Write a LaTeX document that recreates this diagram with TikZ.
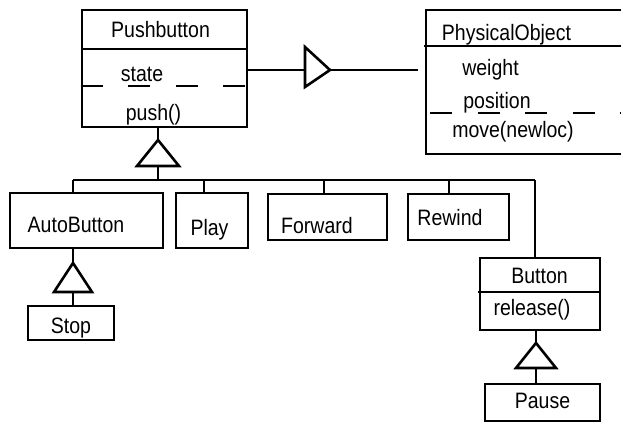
\documentclass[tikz,border=0pt]{standalone}
\usepackage{fontspec}
\setmainfont[FakeStretch=0.875]{Liberation Sans}
\begin{document}
\begin{tikzpicture}[x=1pt,y=-1pt,
  box/.style={draw, line width=2.6pt, inner sep=0pt},
  lbl/.style={anchor=base, inner sep=0pt, font=\fontsize{22.3}{25}\selectfont},
  conn/.style={line width=2.6pt},
  dashline/.style={line width=2.6pt, dash pattern=on 22pt off 25.5pt},
  tri/.style={line width=2.6pt, fill=white, line join=miter}]
\useasboundingbox (0,0) rectangle (621,423);
\clip (0,0) rectangle (621,423);
% class boxes
\node[box, minimum width=165pt, minimum height=117pt] (pb) at (164.5,68.5) {};
\node[box, minimum width=210pt, minimum height=144pt] (po) at (531,82) {};
\node[box, minimum width=153pt, minimum height=55pt] (ab) at (86.5,220.5) {};
\node[box, minimum width=72pt, minimum height=55pt] (play) at (212,220.5) {};
\node[box, minimum width=119pt, minimum height=46pt] (fw) at (327.5,217) {};
\node[box, minimum width=101pt, minimum height=46pt] (rw) at (458.5,217) {};
\node[box, minimum width=86pt, minimum height=34pt] (stop) at (71,323) {};
\node[box, minimum width=120pt, minimum height=72pt] (btn) at (540,294) {};
\node[box, minimum width=115pt, minimum height=37pt] (pause) at (542.5,402.5) {};
% compartments
\draw[conn] (81,49) -- (pb.east |- 0,49);
\draw[dashline] (pb.west |- 0,86) -- (pb.east |- 0,86);
\draw[conn] (424,46) -- (po.east |- 0,46);
\draw[dashline] (430,113) -- (621,113);
\draw[conn] (478,292) -- (btn.east |- 0,292);
% labels
\node[lbl] (tpb) at (160.5,37.5) {Pushbutton};
\node[lbl] (tstate) at (142,81) {state};
\node[lbl] (tpush) at (153.5,120) {push()};
\node[lbl] (tpo) at (506.5,40) {PhysicalObject};
\node[lbl] (tw) at (490.5,75) {weight};
\node[lbl] (tpos) at (497,108) {position};
\node[lbl] (tmove) at (513,137) {move(newloc)};
\node[lbl] (tab) at (76,232.7) {AutoButton};
\node[lbl] (tplay) at (209.5,235) {Play};
\node[lbl] (tfw) at (317,233) {Forward};
\node[lbl] (trw) at (450,225) {Rewind};
\node[lbl] (tstop) at (71,333) {Stop};
\node[lbl] (tbtn) at (539.5,283) {Button};
\node[lbl] (trel) at (532,315) {release()};
\node[lbl] (tpause) at (542.5,408.3) {Pause};
% generalization Pushbutton
\coordinate (g1a) at (158,140);
\coordinate (g1b) at (158,166);
\coordinate (bl) at (73,180);
\coordinate (br) at (535,180);
\draw[conn] (pb.south -| g1a) -- (g1a);
\draw[tri] (g1a) -- (179,166) -- (137,166) -- cycle;
\draw[conn] (g1b) -- (g1b |- bl);
\draw[conn] (bl) -- (br);
\draw[conn] (bl) -- (ab.north -| bl);
\draw[conn] (204,180) -- (play.north -| 204,0);
\draw[conn] (324,180) -- (fw.north -| 324,0);
\draw[conn] (449,180) -- (rw.north -| 449,0);
\draw[conn] (br) -- (btn.north -| br);
% generalization AutoButton -> Stop
\coordinate (g2a) at (73,263);
\coordinate (g2b) at (73,292);
\draw[conn] (ab.south -| g2a) -- (g2a);
\draw[tri] (g2a) -- (92,292) -- (54,292) -- cycle;
\draw[conn] (g2b) -- (stop.north -| g2b);
% generalization Button -> Pause
\coordinate (g3a) at (536,343);
\coordinate (g3b) at (536,368);
\draw[conn] (btn.south -| g3a) -- (g3a);
\draw[tri] (g3a) -- (556,368) -- (516,368) -- cycle;
\draw[conn] (g3b) -- (pause.north -| g3b);
% triangle towards PhysicalObject
\coordinate (a1) at (305,70);
\coordinate (a2) at (330,70);
\coordinate (a3) at (418,70);
\draw[conn] (pb.east |- a1) -- (a1);
\draw[tri] (305,47) -- (a2) -- (305,87) -- cycle;
\draw[conn] (a2) -- (a3);
\end{tikzpicture}
\end{document}
